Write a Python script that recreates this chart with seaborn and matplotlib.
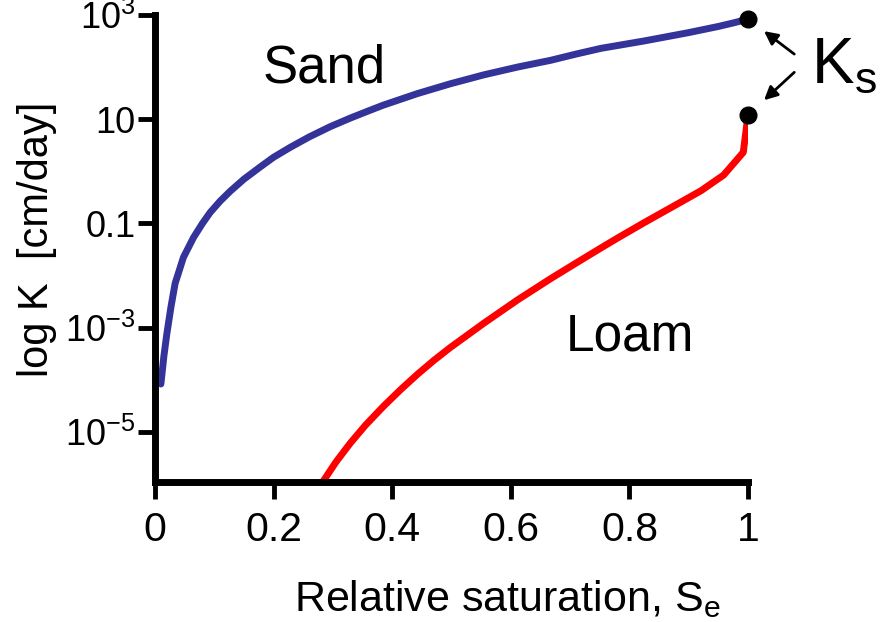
import numpy as np
import pandas as pd
import matplotlib
matplotlib.use("Agg")
import matplotlib.pyplot as plt
import seaborn as sns

# Relative saturation and log10 of hydraulic conductivity (cm/day)
sand_se = [0.010, 0.015, 0.020, 0.027, 0.034, 0.048, 0.065, 0.080, 0.093,
           0.110, 0.127, 0.150, 0.177, 0.200, 0.228, 0.260, 0.296, 0.329,
           0.360, 0.385, 0.442, 0.498, 0.554, 0.611, 0.667, 0.710, 0.752,
           0.824, 0.899, 0.950, 0.976, 1.0]
sand_logk = [-4.08, -3.55, -3.12, -2.60, -2.15, -1.65, -1.27, -1.00, -0.79,
             -0.57, -0.38, -0.15, 0.08, 0.27, 0.46, 0.66, 0.86, 1.02,
             1.16, 1.27, 1.49, 1.68, 1.85, 2.00, 2.13, 2.25, 2.36,
             2.50, 2.66, 2.78, 2.85, 2.92]

loam_se = [0.270, 0.284, 0.305, 0.329, 0.355, 0.386, 0.415, 0.442, 0.470,
           0.498, 0.555, 0.611, 0.667, 0.710, 0.752, 0.780, 0.824, 0.882,
           0.921, 0.959, 0.992, 1.0]
loam_logk = [-6.20, -5.94, -5.58, -5.22, -4.87, -4.50, -4.18, -3.90, -3.63,
             -3.38, -2.91, -2.47, -2.06, -1.76, -1.47, -1.28, -0.99, -0.62,
             -0.37, -0.07, 0.365, 1.08]

# saturated conductivity points (Se = 1)
ks_se = [1.0, 1.0]
ks_logk = [2.92, 1.08]

ytick_vals = [1e3, 1e1, 1e-1, 1e-3, 1e-5]
ytick_labels = [r"$\mathregular{10^{3}}$", "10", "0.1",
                r"$\mathregular{10^{-3}}$", r"$\mathregular{10^{-5}}$"]
xtick_vals = [0, 0.2, 0.4, 0.6, 0.8, 1.0]
xtick_labels = ["0", "0.2", "0.4", "0.6", "0.8", "1"]

sns.set_style("ticks")
plt.rcParams["font.family"] = ["Liberation Sans", "DejaVu Sans"]
plt.rcParams["mathtext.fontset"] = "custom"
plt.rcParams["mathtext.rm"] = "Liberation Sans"
plt.rcParams["mathtext.it"] = "Liberation Sans:italic"
plt.rcParams["mathtext.default"] = "regular"
plt.rcParams["text.color"] = "black"
plt.rcParams["axes.labelcolor"] = "black"
plt.rcParams["xtick.color"] = "black"
plt.rcParams["ytick.color"] = "black"
plt.rcParams["axes.edgecolor"] = "black"

df = pd.concat([
    pd.DataFrame({"Se": sand_se, "K": 10.0 ** np.array(sand_logk), "soil": "Sand"}),
    pd.DataFrame({"Se": loam_se, "K": 10.0 ** np.array(loam_logk), "soil": "Loam"}),
])

fig = plt.figure(figsize=(8.87, 6.22), dpi=100)
ax = fig.add_axes([0.1747, 0.2251, 0.6686, 0.7508])

sns.lineplot(data=df, x="Se", y="K", hue="soil", sort=False,
             palette={"Sand": "#333399", "Loam": "#ff0000"},
             linewidth=5, legend=False, ax=ax)
ax.set_yscale("log")
ax.plot(ks_se, 10.0 ** np.array(ks_logk), "o", color="black",
        markersize=12, clip_on=False, zorder=5)

ax.set_xlim(0, 1)
ax.set_ylim(10 ** -5.96, 1e3)
ax.set_yticks(ytick_vals)
ax.set_yticklabels(ytick_labels)
ax.set_xticks(xtick_vals)
ax.set_xticklabels(xtick_labels)
ax.minorticks_off()

for side in ("top", "right"):
    ax.spines[side].set_visible(False)
for side in ("left", "bottom"):
    ax.spines[side].set_linewidth(5)
    ax.spines[side].set_color("black")
    ax.spines[side].set_capstyle("projecting")

ax.tick_params(axis="both", width=3.5, length=12, color="black",
               labelcolor="black")
ax.tick_params(axis="y", labelsize=26, pad=2)
ax.tick_params(axis="x", labelsize=29.5, pad=9)

ax.set_ylabel("log K  [cm/day]", fontsize=30)
ax.yaxis.set_label_coords(-0.165, 0.52)
ax.set_xlabel(r"Relative saturation, $\mathregular{S_e}$", fontsize=31)
ax.xaxis.set_label_coords(0.594, -0.205)

ax.text(0.182, 10 ** 1.71, "Sand", fontsize=38, ha="left", va="baseline")
ax.text(0.693, 10 ** -3.44, "Loam", fontsize=37, ha="left", va="baseline")

# K_s label with arrows to the saturated points
ax.text(1.106, 10 ** 1.69, r"$\mathregular{K_s}$", fontsize=46,
        ha="left", va="baseline", clip_on=False)
arrow = dict(arrowstyle="-|>", color="black", lw=2, mutation_scale=20,
             shrinkA=0, shrinkB=0)
ax.annotate("", xy=(1.027, 10 ** 2.69), xytext=(1.078, 10 ** 2.25),
            arrowprops=arrow, annotation_clip=False)
ax.annotate("", xy=(1.027, 10 ** 1.365), xytext=(1.078, 10 ** 1.90),
            arrowprops=arrow, annotation_clip=False)

fig.savefig("out.png", dpi=100)
